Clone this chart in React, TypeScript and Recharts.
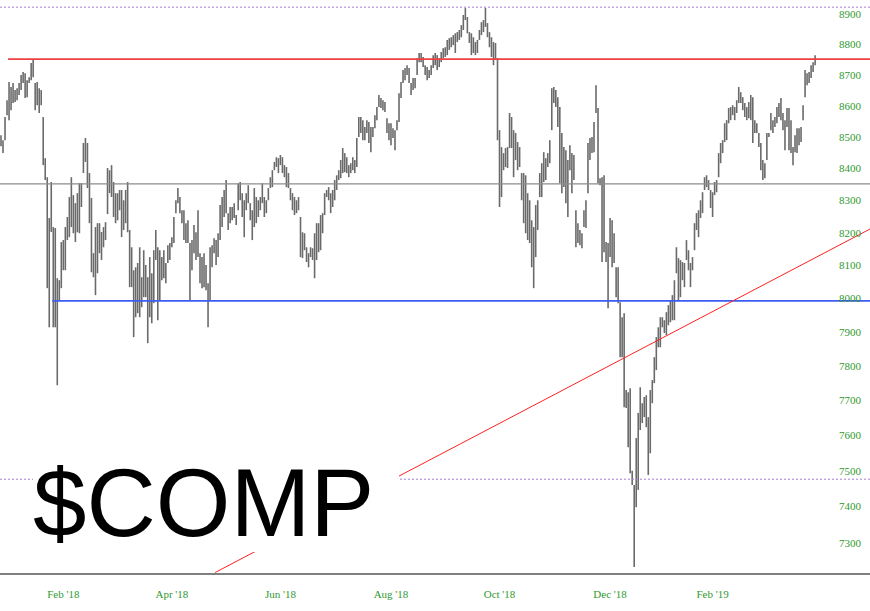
import { ComposedChart, Bar, XAxis, YAxis, ReferenceLine } from "recharts"

// daily highs / lows left to right
const highs = [
  8505, 8489, 8563, 8617, 8676, 8660, 8673, 8650, 8656, 8673,
  8699, 8709, 8705, 8682, 8692, 8738, 8751, 8673, 8676, 8656,
  8650, 8563, 8432, 8372, 8245, 8357, 8217, 8214, 8061, 8055,
  8171, 8177, 8217, 8248, 8310, 8372, 8316, 8291, 8322, 8353,
  8353, 8480, 8496, 8480, 8385, 8307, 8137, 8217, 8229, 8229,
  8202, 8217, 8232,
  8401, 8394, 8410, 8357, 8322, 8322, 8332, 8332, 8300, 8332,
  8357, 8208, 8155, 8085, 8094, 8107, 8155, 8064, 8146, 8101,
  8064, 8125, 8076, 8146, 8208, 8155, 8146, 8125, 8146, 8107,
  8161, 8168, 8186, 8248, 8300, 8338, 8310, 8269, 8269, 8229,
  8238, 8168, 8177, 8223, 8201, 8269, 8137, 8125, 8137, 8101,
  8046, 8155, 8161, 8183,
  8177, 8198, 8285, 8310, 8332, 8363, 8260, 8279, 8279, 8291,
  8254, 8353, 8357, 8322, 8300, 8322, 8347, 8291, 8269, 8338,
  8310, 8300, 8310, 8353, 8310, 8300, 8338, 8372, 8394, 8420,
  8435, 8432, 8442, 8435, 8410, 8404, 8385, 8338, 8322, 8310,
  8300, 8310, 8248, 8201, 8198, 8155, 8137, 8155, 8152, 8198,
  8229, 8229, 8254, 8260, 8322, 8332, 8341, 8322, 8332, 8363,
  8378,
  8394, 8426, 8464, 8448, 8435, 8410, 8416, 8435, 8426, 8496,
  8563, 8563, 8553, 8531, 8553, 8547, 8531, 8531, 8569, 8595,
  8634, 8624, 8617, 8611, 8559, 8543, 8543, 8527, 8521, 8553,
  8640, 8676, 8715, 8722, 8731, 8722, 8673, 8689, 8689, 8754,
  8771, 8771, 8758, 8731, 8725, 8715, 8731, 8764, 8771, 8764,
  8754, 8774, 8787,
  8790, 8814, 8820, 8823, 8830, 8836, 8840, 8847, 8863, 8897,
  8920, 8890, 8840, 8836, 8823, 8807, 8814, 8847, 8873, 8880,
  8920, 8870, 8840, 8823, 8807, 8804, 8754, 8521, 8467, 8448,
  8464, 8467, 8576, 8563, 8521, 8512, 8483, 8467, 8385, 8385,
  8378, 8322, 8300, 8238, 8217, 8285, 8300, 8385, 8416, 8451,
  8432, 8448, 8489, 8656, 8660,
  8650, 8627, 8595, 8512, 8467, 8457, 8426, 8473, 8448, 8442,
  8269, 8229, 8208, 8198, 8269, 8300, 8480, 8496, 8499, 8547,
  8666, 8592, 8369, 8372, 8378, 8171, 8168, 8245, 8238, 8198,
  8094, 8094, 7989, 7944, 7956, 7730, 7724, 7735, 7500, 7460,
  7592, 7664, 7738, 7692, 7710, 7715, 7652, 7730, 7759, 7826,
  7885, 7914, 7944, 7944, 7935, 7959, 7980, 7995, 8010,
  8055, 8155, 8122, 8116, 8110, 8107, 8177, 8146, 8107, 8125,
  8229, 8260, 8269, 8300, 8325, 8372, 8378, 8363, 8332, 8325,
  8357, 8363, 8448, 8480, 8489, 8543, 8553, 8592, 8595, 8601,
  8595, 8617, 8660, 8643, 8627, 8608, 8595, 8611, 8634, 8627,
  8553, 8543, 8512, 8480, 8426, 8416, 8512, 8512, 8576, 8553,
  8563, 8595, 8608, 8624, 8576, 8553, 8592, 8592, 8553, 8467,
  8505, 8527, 8527, 8531, 8601, 8715, 8705, 8709, 8731, 8741,
  8764,
]

const lows = [
  8470, 8448, 8489, 8569, 8553, 8585, 8608, 8611, 8617, 8634,
  8650, 8673, 8624, 8627, 8673, 8682, 8692, 8585, 8601, 8576,
  8601, 8410, 8363, 8031, 7914, 8202, 7914, 7914, 7744, 7995,
  8031, 8085, 8085, 8177, 8186, 8217, 8198, 8171, 8201, 8198,
  8279, 8385, 8420, 8338, 8229, 8079, 8064, 8010, 8076, 8137,
  8116, 8155, 8177,
  8257, 8322, 8310, 8248, 8229, 8238, 8269, 8186, 8208, 8229,
  8201, 8034, 8034, 7885, 7944, 7956, 7944, 7974, 8004, 8004,
  7867, 7944, 7926, 7986, 8116, 7935, 7995, 8055, 8061, 8046,
  8107, 8116, 8155, 8168, 8260, 8291, 8260, 8229, 8177, 8168,
  8168, 7995, 8085, 8137, 8116, 8125, 8046, 8031, 8034, 8025,
  7914, 7995, 8094, 8137,
  8101, 8125, 8177, 8217, 8248, 8260, 8208, 8229, 8238, 8245,
  8223, 8269, 8300, 8248, 8186, 8269, 8291, 8238, 8177, 8217,
  8229, 8248, 8269, 8291, 8248, 8260, 8300, 8338, 8341, 8394,
  8404, 8385, 8410, 8385, 8372, 8341, 8338, 8300, 8269, 8254,
  8260, 8269, 8125, 8122, 8146, 8110, 8094, 8125, 8116, 8061,
  8116, 8140, 8146, 8198, 8254, 8310, 8300, 8260, 8279, 8300,
  8332,
  8363, 8369, 8385, 8388, 8385, 8372, 8385, 8394, 8385, 8404,
  8499, 8512, 8489, 8489, 8512, 8480, 8451, 8499, 8527, 8553,
  8595, 8592, 8585, 8579, 8512, 8489, 8473, 8496, 8457, 8521,
  8547, 8624, 8673, 8682, 8699, 8673, 8634, 8650, 8656, 8699,
  8741, 8741, 8725, 8699, 8682, 8689, 8699, 8722, 8731, 8715,
  8725, 8741, 8754,
  8758, 8764, 8781, 8790, 8797, 8771, 8807, 8814, 8823, 8847,
  8880, 8836, 8804, 8764, 8771, 8764, 8771, 8814, 8830, 8840,
  8857, 8823, 8790, 8758, 8731, 8748, 8489, 8279, 8310, 8394,
  8404, 8401, 8464, 8464, 8372, 8426, 8394, 8404, 8300, 8229,
  8198, 8177, 8168, 8094, 8031, 8125, 8208, 8310, 8310, 8357,
  8363, 8404, 8416, 8521, 8608,
  8595, 8531, 8353, 8322, 8341, 8291, 8248, 8394, 8322, 8363,
  8155, 8168, 8161, 8152, 8217, 8214, 8322, 8426, 8448, 8451,
  8576, 8353, 8347, 8110, 8140, 8110, 7971, 8125, 8094, 8107,
  8004, 7986, 7826, 7826, 7680, 7678, 7566, 7493, 7460, 7234,
  7398, 7446, 7615, 7635, 7652, 7623, 7488, 7549, 7692, 7750,
  7788, 7855, 7855, 7914, 7897, 7891, 7920, 7929, 7935,
  7935, 8076, 7995, 8004, 8055, 8034, 8116, 8085, 8034, 8085,
  8146, 8208, 8186, 8245, 8260, 8332, 8341, 8332, 8276, 8248,
  8316, 8325, 8372, 8416, 8448, 8483, 8489, 8543, 8553, 8569,
  8553, 8576, 8608, 8608, 8585, 8563, 8553, 8559, 8553, 8480,
  8512, 8512, 8467, 8394, 8363, 8369, 8426, 8499, 8521, 8512,
  8531, 8543, 8563, 8553, 8521, 8457, 8531, 8457, 8448, 8410,
  8451, 8448, 8473, 8483, 8553, 8627, 8666, 8673, 8689, 8709,
  8731,
]

const monthTicks = [31, 85, 139, 194, 248, 303, 354]
const monthLabels = ["Feb '18", "Apr '18", "Jun '18", "Aug '18", "Oct '18", "Dec '18", "Feb '19"]
const priceTicks = [7300, 7400, 7500, 7600, 7700, 7800, 7900, 8000, 8100, 8200, 8300, 8400, 8500, 8600, 8700, 8800, 8900]

// drawn levels
const resistance = 8751
const pivot = 8351
const support = 7993
const bandTop = 8923
const bandBottom = 7476
const trendStart = { x: 106.5, y: 7219 }
const trendEnd = { x: 432.3, y: 8211 }

const X_MIN = -0.5
const X_MAX = 432.3
const Y_MIN = 7215
const Y_MAX = 8947
const LABEL_X = 839

const green = "#2f9a2f"

const data = highs.map((h, i) => ({ i, range: [lows[i], h] }))

function HLBar(props: any) {
  const { x, y, width, height } = props
  const cx = x + width / 2
  const top = Math.min(y, y + height)
  const bottom = Math.max(y, y + height)
  return <line x1={cx} x2={cx} y1={top} y2={bottom} stroke="#6a6a6a" strokeWidth={1.6} />
}

function PriceTick(props: any) {
  const { y, payload } = props
  return (
    <text x={LABEL_X} y={y} dy={4} fill={green} fontSize={11} fontFamily="'Liberation Serif', serif">
      {payload.value}
    </text>
  )
}

export default function App() {
  return (
    <div style={{ position: "absolute", left: 0, top: 0, width: 870, height: 611, background: "#fff" }}>
      <ComposedChart width={870} height={611} data={data} margin={{ top: 0, right: 0, bottom: 0, left: 0 }}>
        <XAxis
          dataKey="i"
          type="number"
          domain={[X_MIN, X_MAX]}
          allowDataOverflow
          ticks={monthTicks}
          interval={0}
          tickFormatter={(v: number) => monthLabels[monthTicks.indexOf(v)]}
          axisLine={{ stroke: "#808080", strokeWidth: 2 }}
          tickLine={false}
          tickMargin={10}
          height={37}
          tick={{ fill: green, fontSize: 11, fontFamily: "'Liberation Serif', serif" }}
        />
        <YAxis
          orientation="right"
          mirror
          type="number"
          scale="log"
          domain={[Y_MIN, Y_MAX]}
          allowDataOverflow
          ticks={priceTicks}
          interval={0}
          axisLine={false}
          tickLine={false}
          width={40}
          tick={<PriceTick />}
        />
        <ReferenceLine y={bandTop} stroke="#a47fd4" strokeDasharray="2 2" />
        <ReferenceLine y={bandBottom} stroke="#a47fd4" strokeDasharray="2 2" />
        <ReferenceLine y={pivot} stroke="#8c8c8c" strokeWidth={1.2} />
        <ReferenceLine
          segment={[{ x: 3.5, y: resistance }, { x: X_MAX, y: resistance }]}
          stroke="#ee4040"
          strokeWidth={1.6}
        />
        <ReferenceLine
          segment={[{ x: 25.5, y: support }, { x: X_MAX, y: support }]}
          stroke="#3d5cf0"
          strokeWidth={1.8}
        />
        <ReferenceLine segment={[trendStart, trendEnd]} stroke="#ff2020" strokeWidth={1} />
        <Bar dataKey="range" barSize={2} shape={<HLBar />} isAnimationActive={false} />
      </ComposedChart>
      <svg width={870} height={611} style={{ position: "absolute", left: 0, top: 0, pointerEvents: "none" }}>
        <rect x={33} y={456} width={366} height={96} fill="#fff" />
        <text x={33} y={536} fontSize={96} fontFamily="'Liberation Sans', Arial, sans-serif" fill="#000">
          $COMP
        </text>
      </svg>
    </div>
  )
}
